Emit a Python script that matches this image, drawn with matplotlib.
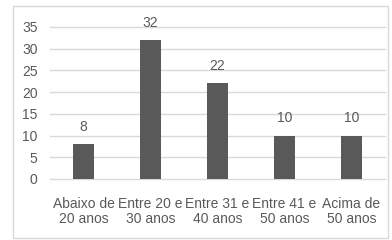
import matplotlib.pyplot as plt
from matplotlib.patches import Rectangle

categories = ["Abaixo de\n20 anos", "Entre 20 e\n30 anos", "Entre 31 e\n40 anos",
              "Entre 41 e\n50 anos", "Acima de\n50 anos"]
values = [8, 32, 22, 10, 10]
yticks = [0, 5, 10, 15, 20, 25, 30, 35]

plt.rcParams["font.family"] = ["Liberation Sans", "DejaVu Sans"]
txt = "#595959"

fig = plt.figure(figsize=(3.92, 2.4), dpi=100)
fig.patches.append(Rectangle((13 / 392, 2 / 240), 375 / 392, 232 / 240,
                             transform=fig.transFigure, fill=False,
                             edgecolor="#d9d9d9", linewidth=1.0))
ax = fig.add_axes([50 / 392, 1 - 179 / 240, 335 / 392, 152 / 240])

x = range(len(values))
ax.bar(x, values, width=0.31, color="#595959", zorder=3)
for i, v in zip(x, values):
    ax.annotate(str(v), (i, v), xytext=(0, 7.5), textcoords="offset points",
                ha="center", va="bottom", fontsize=10, color=txt,
                annotation_clip=False)

ax.set_xlim(-0.5, len(values) - 0.5)
ax.set_ylim(0, 35)
ax.set_yticks(yticks)
ax.set_xticks(list(x))
ax.set_xticklabels(categories, fontsize=10, color=txt, linespacing=1.05)
ax.tick_params(axis="y", labelsize=10, labelcolor=txt, length=0, pad=9)
ax.tick_params(axis="x", length=0, pad=13)
for t in yticks:
    ax.axhline(t, color="#d9d9d9", linewidth=1.0, zorder=0, clip_on=False)
for s in ax.spines.values():
    s.set_visible(False)

fig.savefig("out.png", dpi=100)
